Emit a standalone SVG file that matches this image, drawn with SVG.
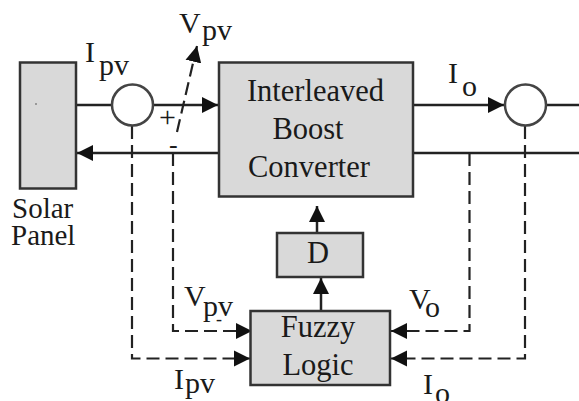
<svg xmlns="http://www.w3.org/2000/svg" width="579" height="401" viewBox="0 0 579 401">
<defs>
<marker id="ah" markerUnits="userSpaceOnUse" markerWidth="17" markerHeight="18" refX="16" refY="9" orient="auto"><path d="M0,1 L16,9 L0,17 Z" fill="#111"/></marker>
</defs>
<style>
text{font-family:"Liberation Serif","Times New Roman",serif;fill:#1a1a1a;font-size:30.5px}
.b{fill:#d9d9d9;stroke:#333;stroke-width:2.5}
.c{fill:#fff;stroke:#444;stroke-width:2.5}
.l{fill:none;stroke:#222;stroke-width:2.5}
.d{fill:none;stroke:#222;stroke-width:2.2;stroke-dasharray:13 6}
.m{text-anchor:middle}
.s{font-size:29px}
.x{font-size:30px}
</style>
<g id="connectors">
<path class="l" d="M76,105H112"/>
<path class="l" d="M153,105H218" marker-end="url(#ah)"/>
<path class="l" d="M219,153H77" marker-end="url(#ah)"/>
<path class="l" d="M413,105H504" marker-end="url(#ah)"/>
<path class="l" d="M546,105H579"/>
<path class="l" d="M413,153H579"/>
<path class="l" d="M317,233V206" marker-end="url(#ah)"/>
<path class="l" d="M321,311V278" marker-end="url(#ah)"/>
<path class="d" d="M177,132L197,46" marker-end="url(#ah)"/>
<path class="d" d="M173,153V331H252" marker-end="url(#ah)"/>
<path class="d" d="M132,126V358.500H250" marker-end="url(#ah)"/>
<path class="d" d="M469.500,153V331H391" marker-end="url(#ah)"/>
<path class="d" d="M525,126V358.500H391" marker-end="url(#ah)"/>
</g>
<g id="solar-panel"><rect class="b" x="20" y="62.500" width="56" height="126"/><rect x="35" y="103" width="2" height="2" fill="#999"/><text class="s" x="12" y="218">Solar</text><text class="s" x="11" y="245">Panel</text></g>
<g id="sensor-in"><circle class="c" cx="132.500" cy="105" r="20.500"/></g>
<g id="sensor-out"><circle class="c" cx="525.500" cy="105" r="20.500"/></g>
<g id="converter"><rect class="b" x="219" y="62.500" width="194" height="134"/><text class="m" x="315.500" y="101">Interleaved</text><text class="m" x="308" y="139">Boost</text><text class="m" x="309" y="177">Converter</text></g>
<g id="d"><rect class="b" x="277" y="233" width="86" height="44"/><text class="m" x="318" y="263">D</text></g>
<g id="fuzzy"><rect class="b" x="250.500" y="311" width="139.500" height="74"/><text class="m" x="318" y="337">Fuzzy</text><text class="m" x="318" y="375">Logic</text></g>
<g id="labels">
<text class="x" x="85" y="62">I</text><text class="x" x="99" y="75">pv</text>
<text class="x" x="179" y="33">V</text><text class="x" x="202" y="40">pv</text>
<text x="159" y="127" style="font-size:30px">+</text><text x="169" y="153" style="font-size:26px">-</text>
<text class="x" x="448" y="83">I</text><text class="x" x="462" y="96">o</text>
<text class="x" x="184" y="306">V</text><text class="x" x="203" y="316">pv</text><text x="216" y="325" style="font-size:18px">-</text>
<text class="x" x="174" y="389">I</text><text class="x" x="185" y="393">pv</text>
<text class="x" x="409" y="309">V</text><text class="x" x="425" y="317">o</text>
<text class="x" x="423" y="394">I</text><text class="x" x="435" y="403">o</text>
</g>
</svg>
